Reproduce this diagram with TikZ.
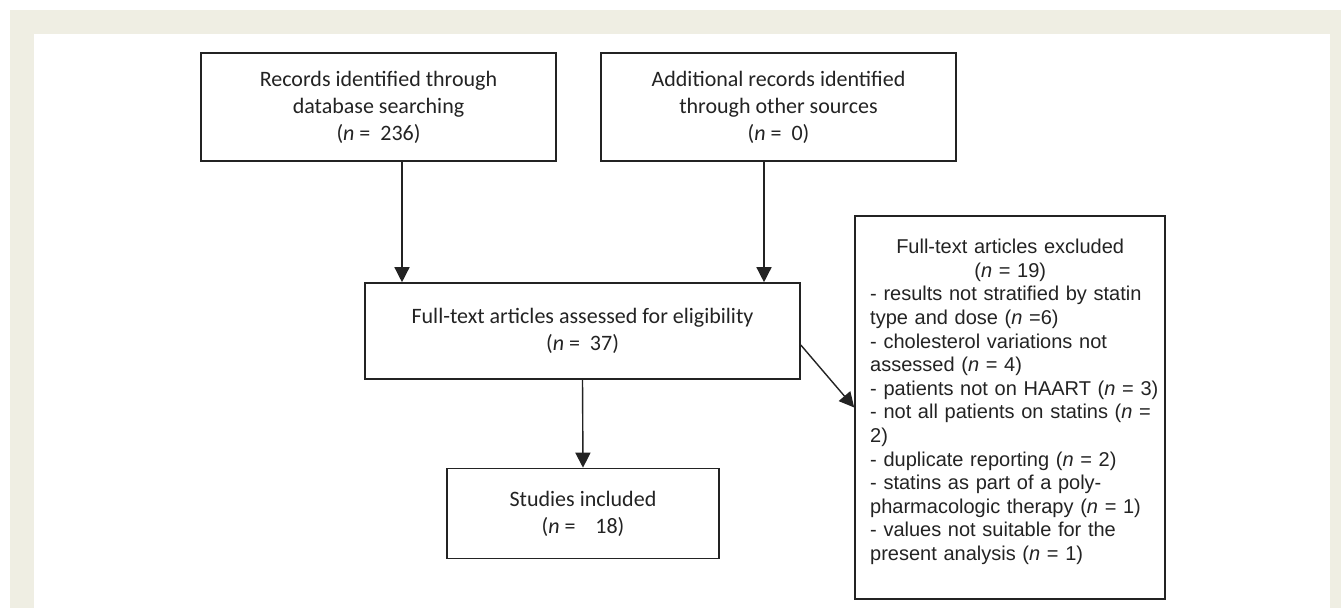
\documentclass[tikz,border=0pt]{standalone}
\usepackage{fontspec}
\setmainfont{Carlito}
\newfontfamily\arialf{Liberation Sans}
\usetikzlibrary{arrows.meta}
\definecolor{beige}{RGB}{239,238,227}
\definecolor{ink}{RGB}{35,35,35}
\begin{document}
\begin{tikzpicture}[x=1pt,y=-1pt,
  box/.style={draw=ink, line width=1.6pt, inner sep=0pt, align=center, text=ink,
    font=\fontsize{22}{27}\selectfont},
  arr/.style={draw=ink, line width=1.4pt, -{Triangle[width=15pt,length=15pt]}},
  exctext/.style={inner sep=0pt, text width=310pt, align=left, text=ink,
    font=\arialf\fontsize{20}{23.6}\selectfont}]
\useasboundingbox (0,0) rectangle (1341,608);
\fill[white] (0,0) rectangle (1341,608);
\fill[beige] (10,10) rectangle (1341,608);
\fill[white] (34,34) rectangle (1330,608);

\node[box, minimum width=355pt, minimum height=108pt] (rec) at (378.5,107)
  {Records identified through\\database searching\\(\textit{n} =\ \ 236)};
\node[box, minimum width=355pt, minimum height=108pt] (add) at (778.5,107)
  {Additional records identified\\through other sources\\(\textit{n} =\ \ 0)};
\node[box, minimum width=435pt, minimum height=96pt] (full) at (582.5,331)
  {Full-text articles assessed for eligibility\\(\textit{n} =\ \ 37)};
\node[box, minimum width=272pt, minimum height=90pt] (inc) at (583,513.5)
  {Studies included\\(\textit{n} =\ \ \ \ 18)};
\node[box, minimum width=310pt, minimum height=383pt] (excl) at (1010,407.5) {};
\node[exctext, anchor=north west] (excltext) at (870,239)
  {\makebox[280pt][c]{Full-text articles excluded}\\
   \makebox[280pt][c]{(\textit{n} = 19)}\\
   - results not stratified by statin\\
   type and dose (\textit{n} =6)\\
   - cholesterol variations not\\
   assessed (\textit{n} = 4)\\
   - patients not on HAART (\textit{n} = 3)\\
   - not all patients on statins (\textit{n} =\\
   2)\\
   - duplicate reporting (\textit{n} = 2)\\
   - statins as part of a poly-\\
   pharmacologic therapy (\textit{n} = 1)\\
   - values not suitable for the\\
   present analysis (\textit{n} = 1)};

\coordinate (a1) at ([xshift=23.5pt]rec.south);
\coordinate (a2) at ([xshift=-14.5pt]add.south);
\coordinate (d1) at ([yshift=-14pt]full.east);
\draw[arr] (a1) -- (a1 |- full.north);
\draw[arr] (a2) -- (a2 |- full.north);
\draw[arr] (full.south) -- (inc.north);
\draw[arr] (d1) -- (excl.west);
\end{tikzpicture}
\end{document}
